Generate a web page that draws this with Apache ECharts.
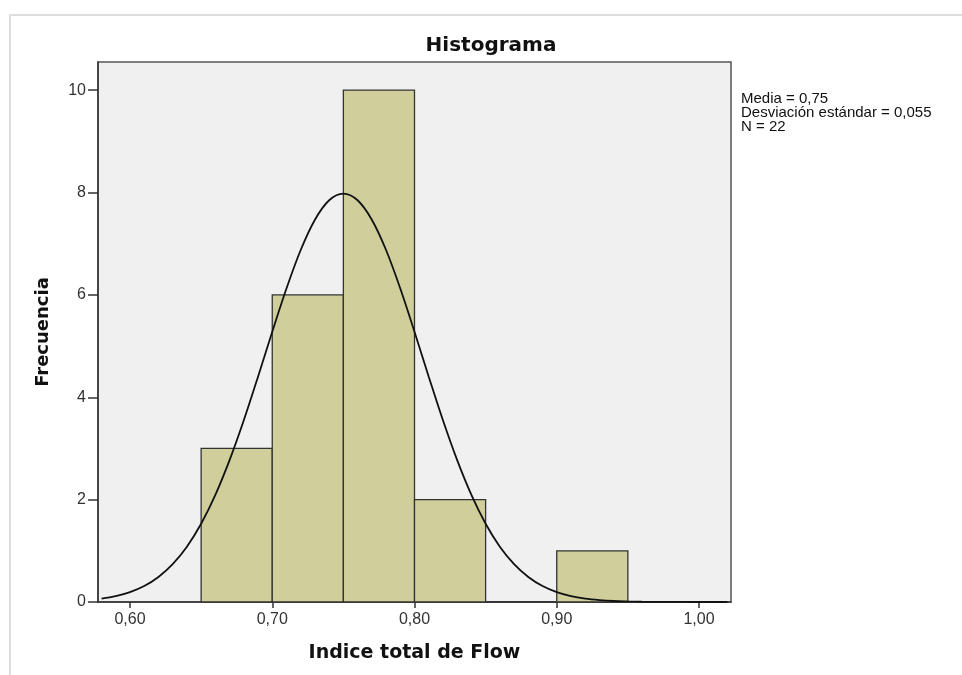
<!DOCTYPE html>
<html>
<head>
<meta charset="utf-8">
<script src="https://cdn.jsdelivr.net/npm/echarts@6/dist/echarts.min.js"></script>
<style>html,body{margin:0;padding:0;background:#fff;}#c{width:962px;height:675px;}</style>
</head>
<body>
<div id="c"></div>
<script>
// Histogram bins
const binStarts = [0.65, 0.70, 0.75, 0.80, 0.85, 0.90];
const binWidth = 0.05;
const counts = [3, 6, 10, 2, 0, 1];
// Normal curve (x, frequency)
const curveX = [0.58,0.59,0.60,0.61,0.62,0.63,0.64,0.65,0.66,0.67,0.68,0.69,0.70,0.71,0.72,0.73,0.74,0.75,0.76,0.77,0.78,0.79,0.80,0.81,0.82,0.83,0.84,0.85,0.86,0.87,0.88,0.89,0.90,0.91,0.92,0.93,0.94,0.95,0.96,0.97,0.98,0.99,1.00,1.01,1.02];
const curveY = [0.067,0.116,0.194,0.312,0.489,0.739,1.080,1.528,2.092,2.771,3.550,4.402,5.280,6.125,6.877,7.469,7.849,7.980,7.849,7.469,6.877,6.125,5.280,4.402,3.550,2.771,2.092,1.528,1.080,0.739,0.489,0.312,0.194,0.116,0.067,0.038,0.020,0.011,0.005,0.003,0.001,0.0005,0.0002,0.0001,0.0];
const xTicks = [0.60, 0.70, 0.80, 0.90, 1.00];
const yTicks = [0, 2, 4, 6, 8, 10];
const titleText = 'Histograma';
const xName = 'Indice total de Flow';
const yName = 'Frecuencia';
const statsLines = ['Media = 0,75', 'Desviación estándar = 0,055', 'N = 22'];

const BFONT = '"DejaVu Sans", Arial, sans-serif';
const FONT = '"Liberation Sans", Arial, sans-serif';
const chart = echarts.init(document.getElementById('c'), null, {renderer: 'canvas'});
const barData = binStarts.map((s, i) => [s, s + binWidth, counts[i]]);
const curveData = curveX.map((x, i) => [x, curveY[i]]);

chart.setOption({
  animation: false,
  backgroundColor: '#fff',
  grid: {left: 98, top: 62, right: 231, bottom: 73, show: true, backgroundColor: '#f0f0f0', borderColor: '#555', borderWidth: 1.5},
  xAxis: {
    type: 'value', min: 0.5775, max: 1.0225,
    name: xName, nameLocation: 'middle', nameGap: 42,
    nameTextStyle: {fontFamily: BFONT, fontSize: 19, fontWeight: 'bold', color: '#111'},
    axisLine: {show: true, lineStyle: {color: '#333', width: 1.5}},
    axisTick: {show: true, length: 6, customValues: xTicks, lineStyle: {color: '#333', width: 1.5}},
    axisLabel: {customValues: xTicks, fontFamily: FONT, fontSize: 16, color: '#333', margin: 10,
      formatter: v => v.toFixed(2).replace('.', ',')},
    splitLine: {show: false}
  },
  yAxis: {
    type: 'value', min: 0, max: 10.55,
    name: yName, nameLocation: 'middle', nameGap: 46, nameRotate: 90,
    nameTextStyle: {fontFamily: BFONT, fontSize: 18, fontWeight: 'bold', color: '#111'},
    axisLine: {show: true, lineStyle: {color: '#333', width: 1.5}},
    axisTick: {show: true, length: 10, customValues: yTicks, lineStyle: {color: '#333', width: 1.5}},
    axisLabel: {customValues: yTicks, fontFamily: FONT, fontSize: 16, color: '#333', margin: 12},
    splitLine: {show: false}
  },
  series: [
    {
      type: 'custom', data: barData, z: 2,
      renderItem: (params, api) => {
        const p0 = api.coord([api.value(0), api.value(2)]);
        const p1 = api.coord([api.value(1), 0]);
        return {type: 'rect', shape: {x: p0[0], y: p0[1], width: p1[0] - p0[0], height: p1[1] - p0[1]},
          style: {fill: '#d0cf9b', stroke: '#333', lineWidth: 1.3}};
      },
      encode: {x: [0, 1], y: 2}
    },
    {
      type: 'line', data: curveData, smooth: 0.35, symbol: 'none', z: 3,
      lineStyle: {color: '#111', width: 1.8}
    }
  ],
  graphic: [
    {type: 'line', shape: {x1: 10, y1: 15, x2: 10, y2: 675}, style: {stroke: '#ddd', lineWidth: 2}},
    {type: 'line', shape: {x1: 9, y1: 15, x2: 962, y2: 15}, style: {stroke: '#ddd', lineWidth: 2}},
    {type: 'text', x: 491, y: 46, style: {text: titleText, font: 'bold 20px ' + BFONT, fill: '#111', align: 'center', verticalAlign: 'middle'}},
    {type: 'text', left: 741, top: 91, style: {text: statsLines.join('\n'), font: '15px ' + FONT, lineHeight: 14, fill: '#111'}}
  ]
});
</script>
</body>
</html>
